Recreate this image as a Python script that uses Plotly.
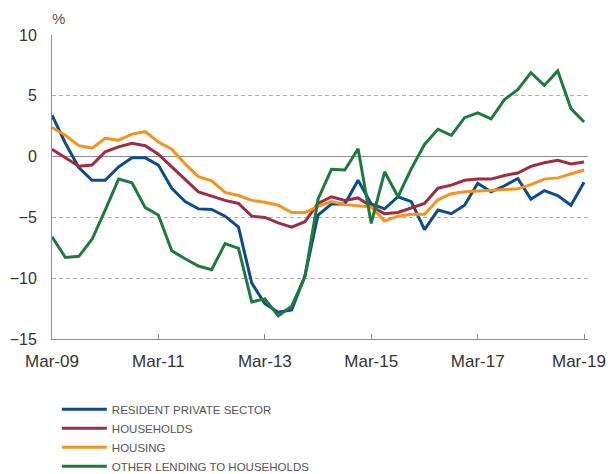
import pandas as pd
import plotly.graph_objects as go

# quarterly observations, Mar-09 .. Mar-19
quarters = pd.date_range("2009-03-01", "2019-03-01", freq="3MS")

resident_private_sector = [
    3.4, 1.1, -0.9, -1.95, -1.95, -0.85, -0.1, -0.1, -0.7, -2.6,
    -3.7, -4.3, -4.35, -4.9, -5.8, -10.4, -12.1, -12.8, -12.6, -9.8,
    -4.8, -3.9, -3.9, -1.95, -3.9, -4.3, -3.3, -3.7, -6.0, -4.4,
    -4.7, -4.0, -2.2, -2.9, -2.4, -1.8, -3.5, -2.8, -3.2, -4.0,
    -2.1,
]
households = [
    0.6, -0.1, -0.8, -0.7, 0.4, 0.8, 1.1, 0.9, 0.2, -0.85,
    -1.85, -2.9, -3.25, -3.6, -3.85, -4.9, -5.0, -5.45, -5.8, -5.35,
    -3.85, -3.3, -3.6, -3.4, -4.1, -4.7, -4.6, -4.2, -3.85, -2.6,
    -2.35, -1.95, -1.85, -1.85, -1.55, -1.35, -0.8, -0.5, -0.3, -0.6,
    -0.45,
]
housing = [
    2.4, 1.75, 0.9, 0.7, 1.5, 1.35, 1.85, 2.05, 1.2, 0.6,
    -0.6, -1.65, -2.0, -2.95, -3.2, -3.6, -3.75, -4.0, -4.6, -4.6,
    -4.1, -3.7, -3.95, -4.05, -4.15, -5.3, -4.9, -4.75, -4.75, -3.55,
    -3.05, -2.9, -2.85, -2.8, -2.7, -2.65, -2.3, -1.85, -1.75, -1.45,
    -1.1,
]
other_lending = [
    -6.6, -8.3, -8.2, -6.8, -4.4, -1.85, -2.15, -4.2, -4.8, -7.75,
    -8.4, -9.0, -9.3, -7.15, -7.55, -11.95, -11.7, -13.1, -12.3, -9.9,
    -3.5, -1.05, -1.1, 0.65, -5.5, -1.25, -3.3, -1.0, 1.0, 2.25,
    1.75, 3.2, 3.6, 3.1, 4.7, 5.5, 6.9, 5.85, 7.05, 3.95,
    2.85,
]

tick_dates = ["2009-03-01", "2011-03-01", "2013-03-01", "2015-03-01", "2017-03-01", "2019-03-01"]
tick_text = ["Mar-09", "Mar-11", "Mar-13", "Mar-15", "Mar-17", "Mar-19"]

series = [
    ("RESIDENT PRIVATE SECTOR", resident_private_sector, "#0b4d8c"),
    ("HOUSEHOLDS", households, "#a02c41"),
    ("HOUSING", housing, "#f6921e"),
    ("OTHER LENDING TO HOUSEHOLDS", other_lending, "#217a3d"),
]

fig = go.Figure()
for name, vals, col in series:
    fig.add_trace(go.Scatter(x=quarters, y=vals, name=name, mode="lines",
                             line=dict(color=col, width=3)))

fig.update_layout(
    width=608, height=474,
    margin=dict(l=52, r=20, t=35, b=135, autoexpand=False),
    plot_bgcolor="white", paper_bgcolor="white",
    font=dict(family="Liberation Sans, Arial, sans-serif", size=16, color="#333333"),
    showlegend=True,
    legend=dict(
        orientation="v", x=0.009, xanchor="left", y=-0.183, yanchor="top",
        font=dict(family="Liberation Sans, Arial, sans-serif", size=11.5, color="#555555"),
        tracegroupgap=0, itemwidth=45,
    ),
    annotations=[
        dict(text="%", xref="paper", yref="paper", x=0, y=1,
             xanchor="left", yanchor="bottom", xshift=-2, yshift=6,
             showarrow=False, font=dict(size=15, color="#555555")),
        # last tick label is pulled a little left so it stays on the page
        dict(text=tick_text[-1], xref="x", yref="paper", x=tick_dates[-1], y=0,
             xanchor="center", yanchor="middle", xshift=-5, yshift=-22,
             showarrow=False, font=dict(size=17, color="#333333")),
    ],
)

fig.update_xaxes(
    range=["2009-03-01", "2019-03-28"],
    tickvals=tick_dates, ticktext=tick_text[:-1] + [""], tickfont=dict(size=17),
    showgrid=False, showline=True, linecolor="#8c8c8c", linewidth=1,
    ticks="inside", ticklen=5, tickcolor="#8c8c8c",
    zeroline=False, ticklabelstandoff=7,
)
fig.update_yaxes(
    range=[-15, 10], tickvals=[-15, -10, -5, 0, 5, 10],
    showgrid=True, gridcolor="#b0b0b0", griddash="4px,3px", gridwidth=1,
    zeroline=True, zerolinecolor="#8c8c8c", zerolinewidth=1,
    showline=True, linecolor="#8c8c8c", linewidth=1,
    ticks="", ticklabelstandoff=11,
)

# drop the default 8px body margin so the figure fills the window exactly
fig.write_html("out.html", config={"displayModeBar": False},
               post_script="document.body.style.margin='0';document.body.style.overflow='hidden';")
